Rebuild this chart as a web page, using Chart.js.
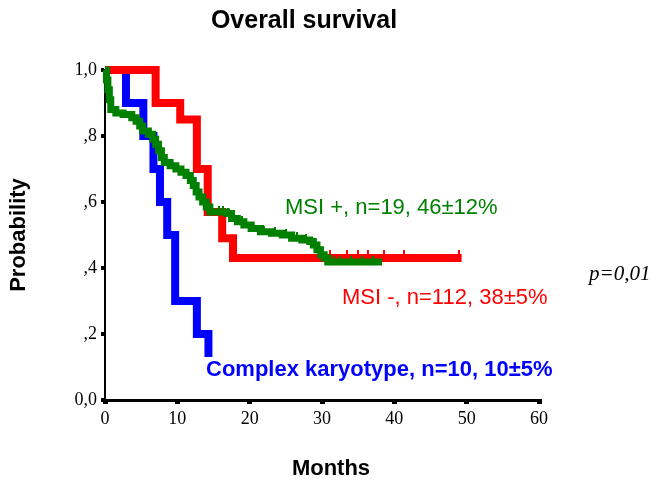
<!DOCTYPE html>
<html>
<head>
<meta charset="utf-8">
<script src="https://cdn.jsdelivr.net/npm/chart.js@4"></script>
<style>
  html, body { margin: 0; padding: 0; background: #fff; }
  #wrap { width: 656px; height: 483px; }
</style>
</head>
<body>
<div id="wrap"><canvas id="survChart"></canvas></div>
<script>
// Kaplan-Meier steps: time (months) where each new level starts
const msiNegTimes = [0, 7.0, 10.4, 12.7, 14.2, 16.2, 17.7, 49.3];
const msiNegSurv  = [1.0, 0.9, 0.85, 0.70, 0.57, 0.49, 0.43, 0.43];
const msiNegCensTimes = [31.1, 33.4, 35.0, 36.3, 38.6, 41.4, 48.9];
const msiNegCensSurv  = [0.43, 0.43, 0.43, 0.43, 0.43, 0.43, 0.43];

const msiPosTimes = [0, 0.2, 0.4, 0.6, 0.8, 1.5, 2.5, 3.7, 4.3, 4.8, 5.2, 6.0, 6.6, 7.0, 7.4, 7.8, 8.2, 9.0, 9.8, 10.5,
  11.2, 11.8, 12.2, 12.6, 13.0, 13.5, 14.0, 14.5, 16.8, 17.5, 18.3, 19.2, 20.2, 21.5, 23.0, 24.5, 25.8, 27.2, 28.3,
  28.8, 29.3, 29.8, 30.3, 30.8, 38.3];
const msiPosSurv = [1.0, 0.97, 0.94, 0.91, 0.88, 0.87, 0.865, 0.855, 0.845, 0.83, 0.815, 0.805, 0.79, 0.775, 0.755, 0.735, 0.72, 0.71, 0.70, 0.69,
  0.68, 0.665, 0.65, 0.63, 0.615, 0.60, 0.585, 0.57, 0.565, 0.55, 0.54, 0.53, 0.52, 0.51, 0.505, 0.50, 0.49, 0.485, 0.48,
  0.47, 0.455, 0.44, 0.43, 0.418, 0.418];
const msiPosCensTimes = [15.8, 16.3, 17.0, 19.0, 20.5, 22.0, 23.5, 25.0, 26.5, 27.8, 31.6, 32.5, 34.0, 35.5, 37.0];
const msiPosCensSurv  = [0.57, 0.57, 0.565, 0.54, 0.52, 0.51, 0.505, 0.50, 0.49, 0.485, 0.418, 0.418, 0.418, 0.418, 0.418];

const complexTimes = [0, 2.9, 5.3, 6.7, 7.6, 8.6, 9.7, 12.7, 14.3];
const complexSurv  = [1.0, 0.9, 0.8, 0.7, 0.6, 0.5, 0.3, 0.2, 0.13];

const yTicks = [0, 0.2, 0.4, 0.6, 0.8, 1.0];
const yTickLabels = ['0,0', ',2', ',4', ',6', ',8', '1,0'];
const xTicks = [0, 10, 20, 30, 40, 50, 60];

const RED = '#ff0000', GREEN = '#008000', BLUE = '#0000ff';
const SANS = '"Liberation Sans", Arial, sans-serif';
const SERIF = '"Liberation Serif", "Times New Roman", serif';

function toPoints(xs, ys) {
  return xs.map((x, i) => ({ x: x, y: ys[i] }));
}

// little vertical tick sitting on top of a thick line
function censorMark(color, len) {
  const c = document.createElement('canvas');
  c.width = 2;
  c.height = len * 2;
  const g = c.getContext('2d');
  g.fillStyle = color;
  g.fillRect(0, 0, 2, len);
  return c;
}

const textPlugin = {
  id: 'texts',
  afterDraw(chart) {
    const ctx = chart.ctx;
    ctx.save();
    ctx.fillStyle = '#000';
    ctx.textAlign = 'center';
    ctx.textBaseline = 'middle';
    ctx.font = 'bold 25px ' + SANS;
    ctx.fillText('Overall survival', 304, 21);
    ctx.font = 'bold 22px ' + SANS;
    ctx.fillText('Months', 331, 469);
    ctx.save();
    ctx.translate(19, 235);
    ctx.rotate(-Math.PI / 2);
    ctx.fillText('Probability', 0, 0);
    ctx.restore();

    ctx.textAlign = 'left';
    ctx.font = 'italic 21px ' + SERIF;
    ctx.fillText('p=0,01', 589, 274);

    ctx.font = '22px ' + SANS;
    ctx.fillStyle = GREEN;
    ctx.fillText('MSI +, n=19, 46\u00b112%', 285, 208);
    ctx.fillStyle = RED;
    ctx.fillText('MSI -, n=112, 38\u00b15%', 342, 298);
    ctx.font = 'bold 22px ' + SANS;
    ctx.fillStyle = BLUE;
    ctx.fillText('Complex karyotype, n=10, 10\u00b15%', 206, 370);
    ctx.restore();
  }
};

const lineDefaults = { showLine: true, stepped: true, pointRadius: 0, fill: false, clip: false, borderCapStyle: 'butt', borderJoinStyle: 'miter' };

const data = {
  datasets: [
    Object.assign({}, lineDefaults, {
      label: 'MSI +', data: toPoints(msiPosTimes, msiPosSurv),
      borderColor: GREEN, borderWidth: 7, order: 1
    }),
    {
      label: 'MSI + censored', data: toPoints(msiPosCensTimes, msiPosCensSurv),
      showLine: false, pointStyle: censorMark(GREEN, 6), pointRadius: 3, clip: false, order: 0
    },
    Object.assign({}, lineDefaults, {
      label: 'MSI -', data: toPoints(msiNegTimes, msiNegSurv),
      borderColor: RED, borderWidth: 8, order: 2
    }),
    {
      label: 'MSI - censored', data: toPoints(msiNegCensTimes, msiNegCensSurv),
      showLine: false, pointStyle: censorMark(RED, 8), pointRadius: 3, clip: false, order: 2
    },
    Object.assign({}, lineDefaults, {
      label: 'Complex karyotype', data: toPoints(complexTimes, complexSurv),
      borderColor: BLUE, borderWidth: 8, order: 3
    })
  ]
};

const config = {
  type: 'scatter',
  data,
  options: {
    responsive: true,
    maintainAspectRatio: false,
    animation: false,
    layout: { padding: { top: 70, right: 117, left: 0, bottom: 0 } },
    plugins: { legend: { display: false }, tooltip: { enabled: false } },
    scales: {
      x: {
        type: 'linear', min: 0, max: 60,
        afterFit(scale) { scale.height = 83; },
        afterBuildTicks(scale) { scale.ticks = xTicks.map(v => ({ value: v })); },
        border: { display: true, color: '#000', width: 3 },
        grid: { drawOnChartArea: false, drawTicks: true, tickLength: 4, lineWidth: 5, color: '#000' },
        ticks: { color: '#000', padding: 4, maxRotation: 0, font: { family: SERIF, size: 18 } }
      },
      y: {
        type: 'linear', min: 0, max: 1,
        afterFit(scale) { scale.width = 105; },
        afterBuildTicks(scale) { scale.ticks = yTicks.map(v => ({ value: v })); },
        border: { display: true, color: '#000', width: 2 },
        grid: { drawOnChartArea: false, drawTicks: true, tickLength: 4, lineWidth: 4, color: '#000' },
        ticks: {
          color: '#000', padding: 4,
          font: { family: SERIF, size: 18 },
          callback: (v) => yTickLabels[yTicks.indexOf(v)]
        }
      }
    }
  },
  plugins: [textPlugin]
};

const survChart = new Chart(document.getElementById('survChart').getContext('2d'), config);
</script>
</body>
</html>
